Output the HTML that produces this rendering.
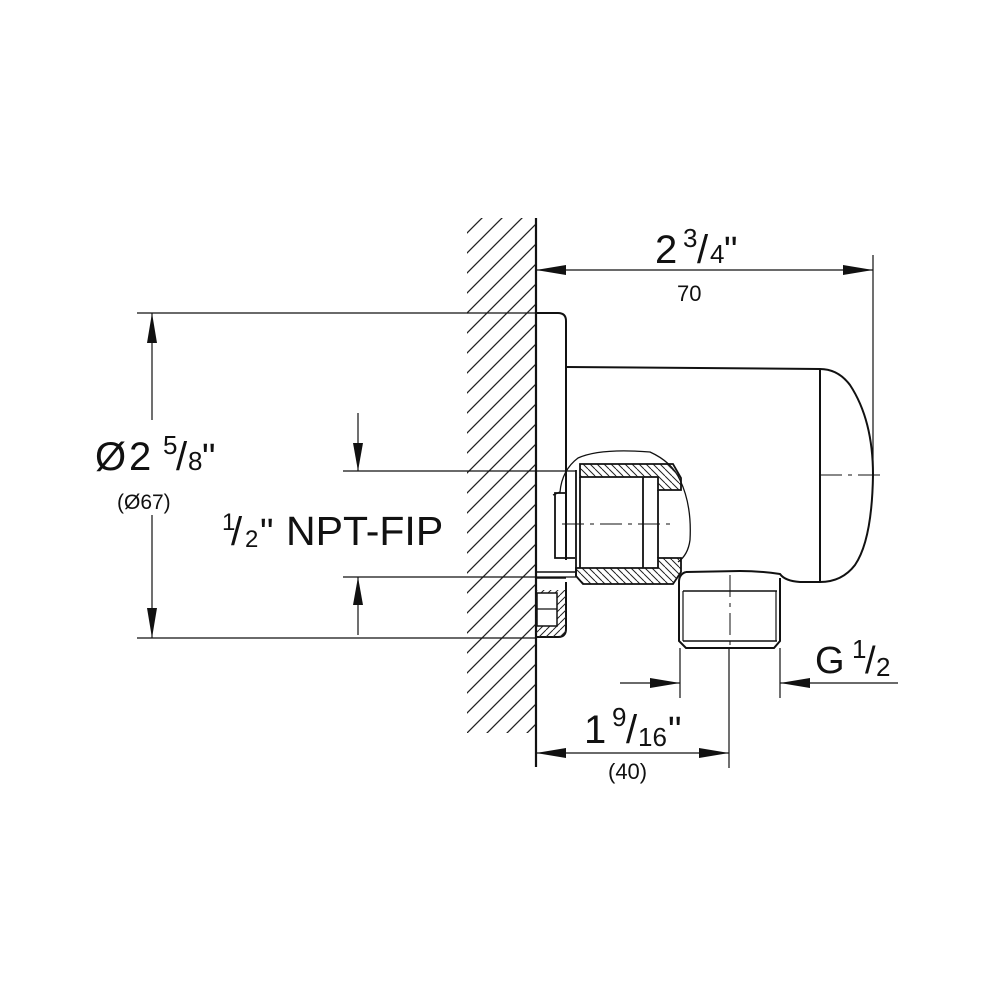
<!DOCTYPE html>
<html><head><meta charset="utf-8"><style>
html,body{margin:0;padding:0;background:#fff}
svg{display:block}
text{font-family:"Liberation Sans",Arial,sans-serif;fill:#111}
</style></head><body>
<svg width="1000" height="1000" viewBox="0 0 1000 1000" xmlns="http://www.w3.org/2000/svg">
<defs>
<pattern id="h" patternUnits="userSpaceOnUse" width="20" height="20">
<path d="M-5,25 L25,-5 M-25,25 L25,-25 M-5,45 L45,-5" stroke="#222" stroke-width="1.3"/>
</pattern>
<pattern id="h2" patternUnits="userSpaceOnUse" width="7" height="7">
<path d="M0,0 L7,7 M-7,0 L0,7 M7,0 L14,7" stroke="#222" stroke-width="1"/>
</pattern>
<pattern id="h3" patternUnits="userSpaceOnUse" width="7" height="7">
<path d="M0,7 L7,0 M-7,7 L0,0 M7,7 L14,0" stroke="#222" stroke-width="1"/>
</pattern>
</defs>
<rect x="467" y="218" width="69" height="515" fill="url(#h)"/>
<line x1="536" y1="218" x2="536" y2="767" stroke="#111" stroke-width="2.2"/>

<g fill="none" stroke="#111" stroke-width="2">
<path d="M536,313 L558,313 Q566,313 566,321 L566,560"/>
<path d="M536,637 L558,637 Q566,637 566,629 L566,582"/>
<path d="M566,367 L820,369 Q838,369 850,385 Q873,420 873,475 Q872,540 855,565 Q842,582 820,582 L800,582 Q785,581 780,574 Q760,571 740,571 L686,572"/>
<line x1="820" y1="369" x2="820" y2="582"/>
<path d="M553,495 L560,492 Q562,470 578,458 Q600,448 650,452 Q672,462 680,480 Q692,505 690,540 Q688,555 678,562" stroke-width="1.3"/>
<path d="M566,493 L555,493 L555,558 L575,558" stroke-width="1.8"/>
<line x1="536" y1="572" x2="575" y2="572" stroke-width="1.5"/>
<line x1="536" y1="578" x2="566" y2="578" stroke-width="1.5"/>
</g>
<path d="M580,464 L673,464 L681,478 L681,490 L658,490 L658,477 L580,477 Z" fill="url(#h2)" stroke="#111" stroke-width="1.8"/>
<path d="M580,568 L658,568 L658,558 L681,558 L681,572 L673,584 L583,584 L576,576 L576,568 Z" fill="url(#h2)" stroke="#111" stroke-width="1.8"/>
<g fill="none" stroke="#111" stroke-width="1.8">
<path d="M576,470 L576,576"/>
<path d="M580,477 L580,568"/>
<path d="M643,477 L643,568"/>
<path d="M658,490 L658,558"/>
</g>
<rect x="536" y="590" width="30" height="47" fill="url(#h3)" stroke="none"/>
<rect x="537" y="593" width="20" height="33" fill="#fff" stroke="#111" stroke-width="1.5"/>
<line x1="537" y1="609" x2="557" y2="609" stroke="#111" stroke-width="1.2"/>
<g fill="none" stroke="#111" stroke-width="2">
<path d="M686,572 Q679,574 679,582 L679,641 L686,648 L774,648 L780,641 L780,578"/>
<line x1="683" y1="591" x2="777" y2="591" stroke-width="1.4"/>
<line x1="683" y1="641" x2="777" y2="641" stroke-width="1.4"/>
<line x1="683" y1="591" x2="683" y2="641" stroke-width="1.2"/>
<line x1="776" y1="591" x2="776" y2="641" stroke-width="1.2"/>
</g>
<g stroke="#111" stroke-width="1" stroke-dasharray="22,6,4,6">
<line x1="562" y1="524" x2="675" y2="524"/>
<line x1="820" y1="475" x2="885" y2="475"/>
<line x1="730" y1="575" x2="730" y2="648"/>
</g>

<g stroke="#111" stroke-width="1.2" fill="none">
<line x1="536" y1="270" x2="873" y2="270"/>
<line x1="873" y1="255" x2="873" y2="472"/>
<line x1="137" y1="313" x2="536" y2="313"/>
<line x1="137" y1="638" x2="536" y2="638"/>
<line x1="152" y1="313" x2="152" y2="420"/>
<line x1="152" y1="515" x2="152" y2="638"/>
<line x1="343" y1="471" x2="576" y2="471"/>
<line x1="343" y1="577" x2="576" y2="577"/>
<line x1="358" y1="413" x2="358" y2="471"/>
<line x1="358" y1="577" x2="358" y2="635"/>
<line x1="620" y1="683" x2="680" y2="683"/>
<line x1="780" y1="683" x2="898" y2="683"/>
<line x1="680" y1="648" x2="680" y2="698"/>
<line x1="780" y1="648" x2="780" y2="698"/>
<line x1="536" y1="753" x2="729" y2="753"/>
<line x1="729" y1="648" x2="729" y2="768"/>
</g>
<g fill="#111">
<path d="M536,270 L566,265 L566,275 Z"/>
<path d="M873,270 L843,265 L843,275 Z"/>
<path d="M152,313 L147,343 L157,343 Z"/>
<path d="M152,638 L147,608 L157,608 Z"/>
<path d="M358,471 L353,443 L363,443 Z"/>
<path d="M358,577 L353,605 L363,605 Z"/>
<path d="M680,683 L650,678 L650,688 Z"/>
<path d="M780,683 L810,678 L810,688 Z"/>
<path d="M536,753 L566,748 L566,758 Z"/>
<path d="M729,753 L699,748 L699,758 Z"/>
</g>

<text x="655" y="263" font-size="40">2</text>
<text x="683" y="247" font-size="26">3</text>
<text x="697" y="263" font-size="40">/</text>
<text x="710" y="263" font-size="26">4</text>
<text x="724" y="263" font-size="38">"</text>
<text x="677" y="301" font-size="22">70</text>

<text x="95" y="470" font-size="40">Ø</text>
<text x="129" y="470" font-size="40">2</text>
<text x="163" y="454" font-size="26">5</text>
<text x="176" y="470" font-size="40">/</text>
<text x="188" y="470" font-size="26">8</text>
<text x="202" y="470" font-size="38">"</text>
<text x="117" y="509" font-size="21">(Ø67)</text>

<text x="222" y="530" font-size="24">1</text>
<text x="231" y="545" font-size="40">/</text>
<text x="245" y="547" font-size="24">2</text>
<text x="260" y="545" font-size="38">"</text>
<text x="286" y="545" font-size="41">NPT-FIP</text>

<text x="815" y="673" font-size="38">G</text>
<text x="852" y="658" font-size="26">1</text>
<text x="865" y="673" font-size="38">/</text>
<text x="876" y="676" font-size="26">2</text>

<text x="584" y="743" font-size="40">1</text>
<text x="612" y="726" font-size="26">9</text>
<text x="626" y="743" font-size="40">/</text>
<text x="638" y="746" font-size="26">16</text>
<text x="668" y="743" font-size="38">"</text>
<text x="608" y="779" font-size="22">(40)</text>
</svg>
</body></html>
